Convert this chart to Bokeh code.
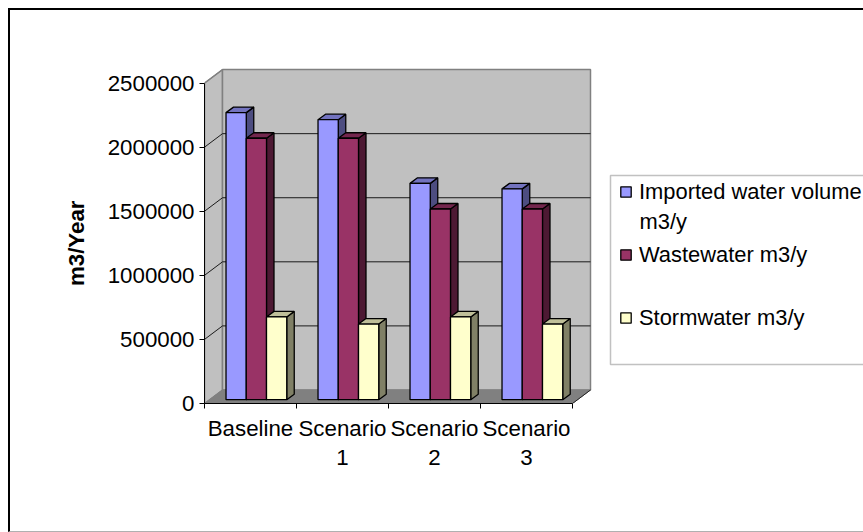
from bokeh.plotting import figure
from bokeh.embed import file_html
from bokeh.resources import INLINE
from bokeh.models import (Range1d, LinearAxis, FixedTicker, Legend, LegendItem,
                          BoxAnnotation, Label, NumeralTickFormatter)

categories = ["Baseline", "Scenario", "Scenario", "Scenario"]
category_second_line = ["", "1", "2", "3"]
series_names = ["Imported water volume", "Wastewater m3/y", "Stormwater m3/y"]
imported = [2240000, 2185000, 1688000, 1645000]
wastewater = [2040000, 2040000, 1488000, 1488000]
stormwater = [646000, 590000, 646000, 590000]
y_ticks = [0, 500000, 1000000, 1500000, 2000000, 2500000]
y_title = "m3/Year"
front_colors = ["#9999FF", "#993366", "#FFFFCC"]
side_colors = ["#4D4D80", "#4D1933", "#808066"]
top_colors = ["#7373BF", "#73264D", "#BFBF99"]

FONT = "Liberation Sans"
FS = "22.3px"
FS_LEGEND = "21.9px"
OX, OY = 10, 10      # canvas origin on the page
AX, AY = 12, 12      # origin that canvas-unit annotations land on
W, H = 855, 524
PX_X = 92.0          # pixels per category
PX_Y = 64 / 500000   # pixels per unit
FL, FB = 204, 402.5  # frame left and bottom on the page

# oblique projection
WALL_DX, WALL_DY = 18 / PX_X, 13.5 / PX_Y
BAR_DX, BAR_DY = 4.5 / PX_X, 3.8 / PX_Y
SIDE_DX, SIDE_DY = 7.5 / PX_X, 5.5 / PX_Y
BAR_START, BAR_W = 0.185, 0.22

p = figure(width=W, height=H, output_backend="svg", toolbar_location=None,
           x_range=Range1d(0, (W - (FL - OX)) / PX_X), y_range=Range1d(0, (FB - OY) / PX_Y),
           x_axis_type=None, y_axis_type=None,
           min_border_left=FL - OX, min_border_right=0,
           min_border_top=0, min_border_bottom=int(H - (FB - OY)))
p.styles = {"margin-left": "8px", "margin-top": "8px",
            "border-left": "2px solid black", "border-top": "2px solid black",
            "border-bottom": "1px solid #b0b0b0"}
p.outline_line_color = None
p.grid.visible = False
p.background_fill_color = "white"
p.border_fill_color = "white"

xmax = len(categories)
ymax = y_ticks[-1]
# walls and floor
p.patch([0, WALL_DX, WALL_DX, 0], [0, WALL_DY, ymax + WALL_DY, ymax],
        fill_color="#C0C0C0", line_color="#808080", line_width=1.5)
p.patch([WALL_DX, xmax + WALL_DX, xmax + WALL_DX, WALL_DX],
        [WALL_DY, WALL_DY, ymax + WALL_DY, ymax + WALL_DY],
        fill_color="#C0C0C0", line_color="#808080", line_width=1.5)
p.patch([0, xmax, xmax + WALL_DX, WALL_DX], [0, 0, WALL_DY, WALL_DY],
        fill_color="#808080", line_color="#808080", line_width=1)
# gridlines
gx, gy = [], []
for v in y_ticks[1:-1]:
    gx.append([0, WALL_DX, xmax + WALL_DX])
    gy.append([v, v + WALL_DY, v + WALL_DY])
p.multi_line(gx, gy, line_color="#1a1a1a", line_width=1)
p.line([0, WALL_DX], [ymax, ymax + WALL_DY], line_color="#808080", line_width=1)
p.line([xmax, xmax + WALL_DX], [0, WALL_DY], line_color="#222222", line_width=1)

# bars
front_renderers = []
for s, vals in enumerate([imported, wastewater, stormwater]):
    lefts = [i + BAR_START + s * BAR_W + BAR_DX for i in range(len(vals))]
    rights = [l + BAR_W for l in lefts]
    tops = [v + BAR_DY for v in vals]
    sx = [[r, r + SIDE_DX, r + SIDE_DX, r] for r in rights]
    sy = [[BAR_DY, BAR_DY + SIDE_DY, t + SIDE_DY, t] for t in tops]
    p.patches(sx, sy, fill_color=side_colors[s], line_color="black", line_width=1.3)
    tx = [[l, l + SIDE_DX, r + SIDE_DX, r] for l, r in zip(lefts, rights)]
    ty = [[t, t + SIDE_DY, t + SIDE_DY, t] for t in tops]
    p.patches(tx, ty, fill_color=top_colors[s], line_color="black", line_width=1.3)
    q = p.quad(left=lefts, right=rights, bottom=[BAR_DY] * len(vals), top=tops,
               fill_color=front_colors[s], line_color="black", line_width=1.3)
    front_renderers.append(q)

# axes
yaxis = LinearAxis(ticker=FixedTicker(ticks=y_ticks), bounds=(0, ymax),
                   formatter=NumeralTickFormatter(format="0"))
yaxis.major_label_text_font = FONT
yaxis.major_label_text_font_size = FS
yaxis.major_label_text_color = "black"
yaxis.major_label_standoff = 5
yaxis.major_tick_out = 5
yaxis.major_tick_in = 0
yaxis.minor_tick_out = 0
yaxis.minor_tick_in = 0
yaxis.axis_line_color = "black"
yaxis.major_tick_line_color = "black"
p.add_layout(yaxis, "left")

# axis title, centred on the value axis rather than on the whole frame
title_axis = LinearAxis(ticker=FixedTicker(ticks=[ymax / 2], minor_ticks=[]),
                        major_label_overrides={ymax / 2: y_title},
                        major_label_orientation="vertical")
title_axis.major_label_text_font = FONT
title_axis.major_label_text_font_size = FS
title_axis.major_label_text_font_style = "bold"
title_axis.major_label_text_color = "black"
title_axis.major_label_standoff = 9
title_axis.major_tick_line_color = None
title_axis.minor_tick_line_color = None
title_axis.axis_line_color = None
p.add_layout(title_axis, "left")

centers = [i + 0.5 for i in range(xmax)]
xaxis = LinearAxis(ticker=FixedTicker(ticks=centers, minor_ticks=list(range(xmax + 1))),
                   bounds=(0, xmax),
                   major_label_overrides=dict(zip(centers, categories)))
xaxis.major_label_text_font = FONT
xaxis.major_label_text_font_size = FS
xaxis.major_label_text_color = "black"
xaxis.major_label_standoff = 7
xaxis.major_tick_out = 0
xaxis.major_tick_in = 0
xaxis.minor_tick_out = 5
xaxis.minor_tick_in = 0
xaxis.minor_tick_line_color = "black"
xaxis.axis_line_color = "black"
p.add_layout(xaxis, "below")

xaxis2 = LinearAxis(ticker=FixedTicker(ticks=centers, minor_ticks=[]),
                    bounds=(0, xmax),
                    major_label_overrides=dict(zip(centers, category_second_line)))
xaxis2.major_label_text_font = FONT
xaxis2.major_label_text_font_size = FS
xaxis2.major_label_text_color = "black"
xaxis2.major_label_standoff = 0
xaxis2.major_tick_line_color = None
xaxis2.minor_tick_line_color = None
xaxis2.axis_line_color = None
p.add_layout(xaxis2, "below")

# legend frame
p.add_layout(BoxAnnotation(left=610 - AX, right=W + 10, top=175 - AY, bottom=364 - AY,
                           left_units="canvas", right_units="canvas",
                           top_units="canvas", bottom_units="canvas",
                           fill_color="white", line_color="#333333", line_width=1.5))

legend = Legend(items=[LegendItem(label=n, renderers=[r])
                       for n, r in zip(series_names, front_renderers)],
                location=(619 - FL, FB - 330), orientation="vertical",
                background_fill_alpha=0, border_line_color=None,
                glyph_width=13, glyph_height=13, label_standoff=7,
                label_text_font=FONT, label_text_font_size=FS_LEGEND,
                label_text_color="black", label_height=16,
                spacing=37, padding=0, margin=0)
p.add_layout(legend, "center")

p.add_layout(Label(x=639 - AX, y=221 - AY, x_units="canvas", y_units="canvas",
                   text="m3/y", text_font=FONT, text_font_size=FS_LEGEND,
                   text_color="black", text_baseline="middle"))

open("out.html", "w").write(file_html(p, INLINE))
